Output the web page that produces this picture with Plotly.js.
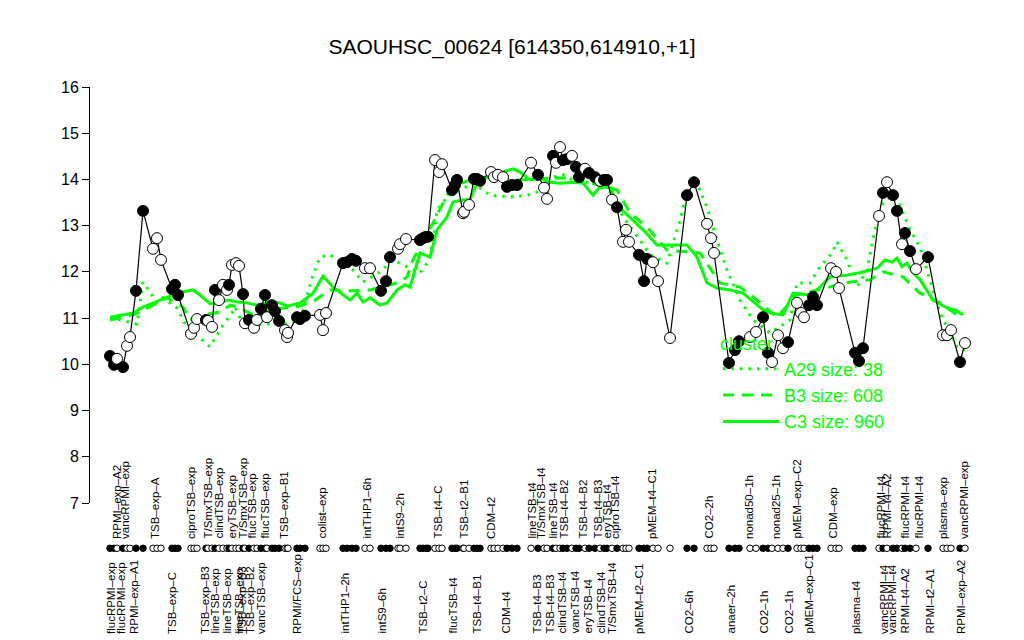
<!DOCTYPE html>
<html><head><meta charset="utf-8">
<script src="https://cdn.plot.ly/plotly-3.0.1.min.js"></script>
<style>html,body{margin:0;padding:0;background:#fff}#chart{width:1024px;height:640px}</style>
</head><body><div id="chart"></div>
<script>
// sample positions along the condition axis
const xpos = [110,114,117,123,127,130,136,143,153,157,161,172,175,178,191,194,197,206,208,212,215,219,223,227,229,232,236,239,243,245,249,254,257,261,265,267,272,275,279,285,287,288,297,300,305,320,323,326,343,347,352,356,365,370,381,386,390,398,400,406,420,423,426,428,435,439,442,452,455,457,463,464,469,474,477,480,491,494,498,503,507,512,517,531,538,544,547,553,556,560,563,567,572,576,579,585,589,595,600,604,607,612,617,623,626,629,639,644,647,653,658,670,687,694,707,711,714,729,735,739,750,756,763,768,772,778,783,788,797,801,804,809,813,817,831,836,839,855,859,863,879,883,887,893,897,902,905,910,916,928,943,947,951,960,965];
// expression values
const values = [10.18,9.99,10.12,9.94,10.40,10.59,11.59,13.32,12.50,12.73,12.26,11.63,11.72,11.50,10.66,10.79,10.98,10.96,10.94,10.81,11.61,11.39,11.72,11.61,11.72,12.15,12.19,12.13,11.52,10.89,10.96,10.79,10.96,11.20,11.50,11.02,11.28,11.15,10.94,10.74,10.59,10.68,11.02,10.98,11.05,11.07,10.74,11.11,12.19,12.21,12.28,12.24,12.08,12.08,11.59,11.80,12.32,12.50,12.60,12.71,12.69,12.73,12.76,12.76,14.42,14.16,14.33,13.77,13.88,13.99,13.27,13.30,13.45,14.01,14.01,13.97,14.16,14.05,14.10,14.05,13.84,13.88,13.88,14.36,14.10,13.82,13.58,14.51,14.36,14.70,14.42,14.44,14.51,14.27,14.05,14.23,14.14,14.05,13.97,13.99,13.99,13.56,13.40,12.65,12.91,12.65,12.37,11.80,12.28,12.21,11.80,10.57,13.66,13.94,13.04,12.73,12.41,10.03,10.31,10.50,10.59,10.70,11.02,10.25,10.05,10.63,10.35,10.48,11.33,11.11,11.02,11.28,11.46,11.28,12.08,12.00,11.65,10.25,10.07,10.35,13.21,13.71,13.94,13.66,13.32,12.60,12.84,12.45,12.06,12.32,10.63,10.63,10.74,10.05,10.46];
// 1 = filled marker, 0 = open marker
const filled = [1,1,0,1,0,0,1,1,0,0,0,1,1,1,0,0,0,1,0,0,1,0,0,0,1,0,0,0,1,0,1,0,0,1,1,0,1,1,1,0,0,0,1,1,1,0,0,0,1,1,1,1,0,0,1,1,1,0,0,0,1,1,1,1,0,0,0,1,1,1,0,0,0,1,1,1,0,0,0,0,1,1,1,0,1,0,0,1,0,0,1,1,0,1,1,0,1,1,0,1,1,0,1,0,0,0,1,1,1,0,0,0,1,1,0,0,0,1,1,1,0,0,1,1,0,0,0,1,0,0,0,1,1,1,0,0,0,1,1,1,0,1,0,1,1,0,1,1,0,1,0,0,0,1,0];

// cluster mean profiles
const c3X = [110,133,143,153,167,177,183,193,200,210,220,228,237,247,257,270,280,287,300,313,323,333,350,357,363,370,380,387,397,405,410,420,430,437,447,453,463,470,477,490,503,513,520,530,540,550,560,573,583,593,600,610,620,630,643,657,673,687,697,707,717,730,743,753,763,770,783,793,810,820,830,847,860,877,885,892,897,902,907,913,920,933,947,955,963];
const c3Y = [11.02,11.11,11.24,11.33,11.46,11.54,11.57,11.61,11.50,11.31,11.33,11.39,11.35,11.33,11.28,11.35,11.33,11.26,11.33,11.54,11.91,11.67,11.39,11.54,11.35,11.44,11.28,11.33,11.61,11.72,11.67,12.41,12.32,12.91,13.19,13.51,13.56,13.56,13.94,14.07,14.16,14.23,14.16,13.99,14.03,13.94,13.92,13.94,13.92,13.66,13.84,13.82,13.38,13.17,12.91,12.58,12.58,12.58,12.32,11.76,11.65,11.61,11.54,11.35,11.18,11.11,11.07,11.54,11.50,11.67,11.89,11.93,11.98,12.08,12.26,12.21,12.30,12.11,12.19,11.98,11.83,11.39,11.22,11.18,11.07];
const b3X = [110,133,153,167,183,190,203,220,230,240,257,270,300,315,330,352,370,397,407,413,420,433,447,457,477,490,520,550,573,617,630,647,667,700,720,740,753,777,797,810,850,870,883,903,920,940,957];
const b3Y = [10.96,11.07,11.28,11.44,11.24,10.96,11.07,11.13,11.28,11.22,11.02,11.18,11.26,11.39,11.61,11.59,11.61,11.76,11.89,12.26,12.54,13.06,13.66,13.88,14.05,14.05,13.99,14.03,14.03,13.77,13.27,12.97,12.47,12.41,11.76,11.67,11.46,11.02,11.50,11.57,11.78,11.83,12.00,11.89,11.54,11.33,11.07];
const a29X = [110,137,143,150,157,163,177,182,187,202,210,217,223,232,235,243,263,273,287,300,310,313,320,330,353,363,380,393,407,420,427,433,437,447,460,473,490,510,527,537,547,563,577,593,610,623,640,650,667,680,687,697,707,717,727,740,753,770,790,797,810,820,832,837,847,857,867,875,883,893,900,910,920,930,940,957,965];
const a29Y = [11.02,10.87,11.78,11.57,11.33,11.44,11.22,11.00,10.79,10.53,10.38,10.63,10.85,11.11,11.24,10.85,10.87,10.89,10.89,10.96,11.67,11.93,12.32,12.37,12.04,11.78,12.00,12.26,12.11,11.98,12.19,12.63,13.34,13.62,13.77,13.92,13.66,13.62,13.66,13.73,14.03,14.10,13.94,13.94,13.73,13.19,12.69,12.37,12.19,13.12,13.71,13.92,13.40,12.69,12.04,11.39,10.96,10.68,10.96,11.76,11.76,12.11,12.41,12.65,12.26,11.67,12.04,12.91,13.49,13.66,13.45,12.91,12.54,11.82,11.11,10.38,10.31];

// tick labels
const topLabels = ["RPMI\u2013exp\u2013A2","vancRPMI\u2013exp","TSB\u2013exp\u2013A","ciproTSB\u2013exp","T/SmxTSB\u2013exp","clindTSB\u2013exp","eryTSB\u2013exp","T/SmxTSB\u2013exp","flucTSB\u2013exp","flucTSB\u2013exp","TSB\u2013exp\u2013B1","colist\u2013exp","intTHP1\u20136h","intS9\u20132h","TSB\u2013t4\u2013C","TSB\u2013t2\u2013B1","CDM\u2013t2","lineTSB\u2013t4","T/SmxTSB\u2013t4","lineTSB\u2013t4","TSB\u2013t4\u2013B2","TSB\u2013t4\u2013B2","TSB\u2013t4\u2013B3","eryTSB\u2013t4","ciproTSB\u2013t4","pMEM\u2013t4\u2013C1","CO2\u20132h","nonad50\u20131h","nonad25\u20131h","pMEM\u2013exp\u2013C2","CDM\u2013exp","flucRPMI\u2013t4","RPMI\u2013t4\u2013A2","flucRPMI\u2013t4","flucRPMI\u2013t4","plasma\u2013exp","vancRPMI\u2013exp"];
const topLabelPos = [117,125,155,191,207,218,231,242,251,264,284,321,366,399,437,463,491,531,541,552,563,582,597,606,615,652,708,749,776,796,832,880,886,904,918,943,964];
const bottomLabels = ["flucRPMI\u2013exp","flucRPMI\u2013exp","RPMI\u2013exp\u2013A1","TSB\u2013exp\u2013C","TSB\u2013exp\u2013B3","lineTSB\u2013exp","lineTSB\u2013exp","lineTSB\u2013exp","TSB\u2013exp\u2013B3","TSB\u2013exp\u2013B2","vancTSB\u2013exp","RPMI/FCS\u2013exp","intTHP1\u20132h","intS9\u20136h","TSB\u2013t2\u2013C","flucTSB\u2013t4","TSB\u2013t4\u2013B1","CDM\u2013t4","TSB\u2013t4\u2013B3","TSB\u2013t4\u2013B3","clindTSB\u2013t4","vancTSB\u2013t4","eryTSB\u2013t4","clindTSB\u2013t4","T/SmxTSB\u2013t4","pMEM\u2013t2\u2013C1","CO2\u20136h","anaer\u20132h","CO2\u20131h","CO2\u20131h","pMEM\u2013exp\u2013C1","plasma\u2013t4","vancRPMI\u2013t4","vancRPMI\u2013t4","RPMI\u2013t4\u2013A2","RPMI\u2013t2\u2013A1","RPMI\u2013exp\u2013A2"];
const bottomLabelPos = [111,121,134,172,205,214,226,238,242,250,261,297,344,381,422,452,476,505,536,549,561,574,587,600,612,639,688,730,763,788,808,856,884,892,904,929,961];

const GREEN = '#00ff00';
const FONT = 'Liberation Sans, Arial, Helvetica, sans-serif';
const markerColors = filled.map(f => f ? 'black' : 'white');

const traces = [
  {x: a29X, y: a29Y, type: 'scatter', mode: 'lines', name: 'A29 size: 38',
   line: {color: GREEN, width: 3, dash: '2.5px,6px'}, hoverinfo: 'skip'},
  {x: b3X, y: b3Y, type: 'scatter', mode: 'lines', name: 'B3 size: 608',
   line: {color: GREEN, width: 3, dash: '11px,8px'}, hoverinfo: 'skip'},
  {x: c3X, y: c3Y, type: 'scatter', mode: 'lines', name: 'C3 size: 960',
   line: {color: GREEN, width: 3}, hoverinfo: 'skip'},
  {x: xpos, y: values, type: 'scatter', mode: 'lines+markers', showlegend: false,
   line: {color: 'black', width: 1.2},
   marker: {size: 11, color: markerColors, line: {color: 'black', width: 1}}, cliponaxis: false},
  {x: xpos, y: xpos.map(() => 1), yaxis: 'y2', type: 'scatter', mode: 'markers', showlegend: false,
   marker: {size: 6.5, color: markerColors, line: {color: 'black', width: 1}}, cliponaxis: false}
];

const PH = 483, PB = 570; // plot area helper for paper coordinates
const annotations = [];
topLabels.forEach((t, i) => annotations.push({
  text: t, x: topLabelPos[i], xref: 'x', y: (PB - 540) / PH, yref: 'paper',
  xanchor: 'center', yanchor: 'bottom', textangle: -90, showarrow: false,
  font: {family: FONT, size: 11.5, color: 'black'}, borderpad: 0
}));
bottomLabels.forEach((t, i) => annotations.push({
  text: t, x: bottomLabelPos[i], xref: 'x', y: (PB - 635) / PH, yref: 'paper',
  xanchor: 'center', yanchor: 'bottom', textangle: -90, showarrow: false,
  font: {family: FONT, size: 11.5, color: 'black'}, borderpad: 0
}));

const layout = {
  width: 1024, height: 640,
  margin: {l: 90, r: 34, t: 87, b: 70},
  paper_bgcolor: 'white', plot_bgcolor: 'white',
  font: {family: FONT, color: 'black'},
  title: {text: 'SAOUHSC_00624 [614350,614910,+1]', x: 0.5, xref: 'container',
          y: 1 - 47 / 640, yref: 'container', yanchor: 'middle',
          font: {family: FONT, size: 21, color: 'black'}},
  xaxis: {range: [90, 990], visible: false, showgrid: false, zeroline: false},
  yaxis: {domain: [(PB - 503) / PH, 1], range: [7, 16], dtick: 1, tick0: 7,
          ticks: 'outside', ticklen: 7, tickwidth: 1, tickcolor: 'black',
          showline: true, linecolor: 'black', linewidth: 1,
          showgrid: false, zeroline: false,
          tickfont: {family: FONT, size: 16, color: 'black'}},
  yaxis2: {domain: [0.02, 0.07], range: [0, 2], visible: false, anchor: 'x'},
  showlegend: true,
  legend: {x: (718 - 90) / 900, y: 0.503, xanchor: 'left', yanchor: 'top',
           bgcolor: 'rgba(0,0,0,0)', borderwidth: 0, itemwidth: 56,
           font: {family: FONT, size: 18, color: GREEN},
           title: {text: 'cluster', font: {family: FONT, size: 18, color: GREEN}},
           tracegroupgap: 0},
  annotations: annotations,
  hovermode: false
};

Plotly.newPlot('chart', traces, layout, {displayModeBar: false, staticPlot: true});
</script>
</body></html>
